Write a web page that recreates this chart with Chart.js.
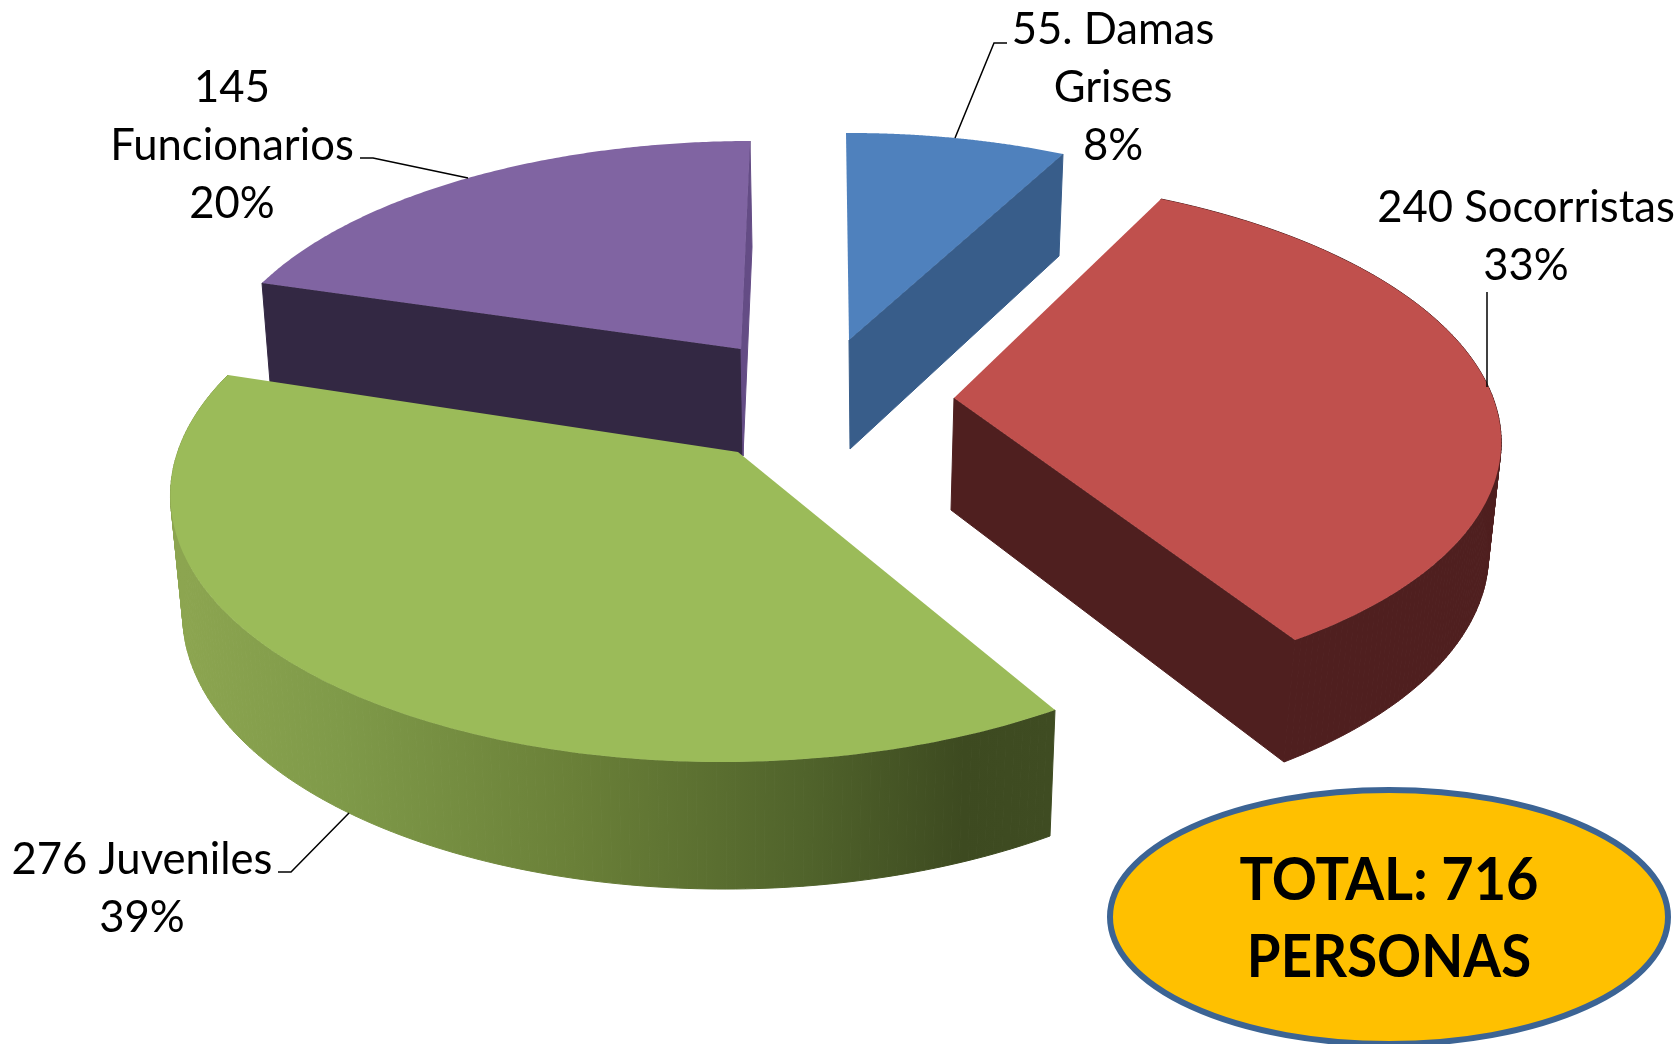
<!DOCTYPE html>
<html>
<head>
<meta charset="utf-8">
<style>html,body{margin:0;padding:0;background:#fff;overflow:hidden}canvas{display:block}</style>
<script src="https://cdn.jsdelivr.net/npm/chart.js@4/dist/chart.umd.js"></script>
</head>
<body>
<canvas id="c" width="1678" height="1044"></canvas>
<script>
const categories = ["Damas Grises", "Socorristas", "Juveniles", "Funcionarios"];
const values = [55, 240, 276, 145];
const percents = ["8%", "33%", "39%", "20%"];
const labelLines = [["55. Damas", "Grises", "8%"], ["240 Socorristas", "33%"], ["276 Juveniles", "39%"], ["145", "Funcionarios", "20%"]];
const totalLines = ["TOTAL: 716", "PERSONAS"];
const topColors = ["#4f81bd", "#c0504d", "#9bbb59", "#8064a2"];

/* perspective fit per slice: where apex, rim start, rim middle, rim end land on the page */
const topFit = [
  [[849,340],[846,133],[955,138],[1063,154]],
  [[954,398],[1161,199],[1489,388],[1295,640]],
  [[738,452],[1055,710],[341,689],[228,375]],
  [[741,349],[262,283],[468,178],[750,141]]
];
const bottomFit = [
  [[850,449],[846,240],[955,240],[1059,256]],
  [[951,510],[1155,310],[1475,495],[1284,762]],
  [[735,570],[1050,836],[349,813],[238,492]],
  [[743,456],[270,382],[475,280],[752,247]]
];
const walls = [
  {startCut:null, rim:null, endCut:"#385d8a"},
  {startCut:null, rim:"#4f1f1f", endCut:"#4f1f1f"},
  {startCut:null, rim:"gradient", endCut:null},
  {startCut:"#332843", rim:null, endCut:"#644c85"}
];
const drawOrder = [3, 0, 1, 2];
const labelPos = [
  {x:1113, y:[44,102,160]},
  {x:1526, y:[222,280]},
  {x:142, y:[874,932]},
  {x:232, y:[102,160,218]}
];
const leaders = [
  [[955,138],[994,43],[1007,43]],
  [[1487,387],[1487,292]],
  [[349,813],[291,872],[278,872]],
  [[468,178],[373,158],[360,158]]
];

function solve(A, b) {
  const n = b.length, M = A.map((r, i) => [...r, b[i]]);
  for (let i = 0; i < n; i++) {
    let p = i;
    for (let k = i + 1; k < n; k++) if (Math.abs(M[k][i]) > Math.abs(M[p][i])) p = k;
    [M[i], M[p]] = [M[p], M[i]];
    for (let k = 0; k < n; k++) {
      if (k === i) continue;
      const f = M[k][i] / M[i][i];
      for (let j = i; j <= n; j++) M[k][j] -= f * M[i][j];
    }
  }
  return M.map((r, i) => r[n] / r[i]);
}
function homography(src, dst) {
  const A = [], b = [];
  for (let i = 0; i < 4; i++) {
    const [x, y] = src[i], [X, Y] = dst[i];
    A.push([x, y, 1, 0, 0, 0, -x * X, -y * X]); b.push(X);
    A.push([0, 0, 0, x, y, 1, -x * Y, -y * Y]); b.push(Y);
  }
  const h = solve(A, b);
  return (x, y) => {
    const w = h[6] * x + h[7] * y + 1;
    return [(h[0] * x + h[1] * y + h[2]) / w, (h[3] * x + h[4] * y + h[5]) / w];
  };
}
function poly(ctx, pts) {
  ctx.beginPath();
  pts.forEach((p, i) => i ? ctx.lineTo(p[0], p[1]) : ctx.moveTo(p[0], p[1]));
  ctx.closePath();
}
function quad(ctx, pts, style) {
  ctx.fillStyle = style; ctx.strokeStyle = style; ctx.lineWidth = 1;
  poly(ctx, pts); ctx.fill(); ctx.stroke();
}

const pie3d = {
  id: "pie3d",
  beforeDatasetsDraw(chart) {
    const ctx = chart.ctx, arcs = chart.getDatasetMeta(0).data;
    for (const i of drawOrder) {
      const el = arcs[i], a0 = el.startAngle, a1 = el.endAngle, am = (a0 + a1) / 2;
      const u = a => [Math.cos(a), Math.sin(a)];
      const src = [[0, 0], u(a0), u(am), u(a1)];
      const T = homography(src, topFit[i]), B = homography(src, bottomFit[i]);
      const N = 160, angles = [];
      for (let k = 0; k <= N; k++) angles.push(a0 + (a1 - a0) * k / N);
      const topRim = angles.map(a => T(...u(a))), botRim = angles.map(a => B(...u(a)));
      const w = walls[i];
      const ta = T(0, 0), ba = B(0, 0);
      if (w.startCut) quad(ctx, [ta, topRim[0], botRim[0], ba], w.startCut);
      if (w.endCut) quad(ctx, [ta, topRim[N], botRim[N], ba], w.endCut);
      if (w.rim) {
        let style = w.rim;
        if (w.rim === "gradient") {
          const g = ctx.createLinearGradient(184, 0, 1050, 0);
          g.addColorStop(0, "#8ca550");
          g.addColorStop(0.18, "#7f9a49");
          g.addColorStop(0.45, "#6a8038");
          g.addColorStop(0.72, "#50632b");
          g.addColorStop(0.9, "#3d4a20");
          g.addColorStop(1, "#3f4c22");
          style = g;
        }
        for (let k = 0; k < N; k++) quad(ctx, [topRim[k], topRim[k + 1], botRim[k + 1], botRim[k]], style);
      }
      ctx.fillStyle = el.options.backgroundColor;
      poly(ctx, [ta].concat(topRim)); ctx.fill();
    }
    return false;
  },
  afterDraw(chart) {
    const ctx = chart.ctx;
    ctx.save();
    ctx.strokeStyle = "#000"; ctx.lineWidth = 1.5;
    for (const l of leaders) {
      ctx.beginPath();
      l.forEach((p, i) => i ? ctx.lineTo(p[0], p[1]) : ctx.moveTo(p[0], p[1]));
      ctx.stroke();
    }
    ctx.fillStyle = "#000"; ctx.textAlign = "center"; ctx.textBaseline = "alphabetic";
    ctx.font = '43.6px Lato';
    labelLines.forEach((lines, i) => lines.forEach((t, j) => ctx.fillText(t, labelPos[i].x, labelPos[i].y[j])));
    ctx.beginPath();
    ctx.ellipse(1389, 917, 279, 127, 0, 0, Math.PI * 2);
    ctx.fillStyle = "#ffc000"; ctx.fill();
    ctx.strokeStyle = "#3c6494"; ctx.lineWidth = 6; ctx.stroke();
    ctx.fillStyle = "#000"; ctx.font = 'bold 60px Lato';
    [[totalLines[0], 900, 0.933], [totalLines[1], 977, 0.91]].forEach(([t, y, sx]) => {
      ctx.save(); ctx.translate(1389, y); ctx.scale(sx, 1); ctx.fillText(t, 0, 0); ctx.restore();
    });
    ctx.restore();
  }
};

new Chart(document.getElementById("c"), {
  type: "pie",
  data: { labels: categories, datasets: [{ data: values, backgroundColor: topColors, borderWidth: 0 }] },
  options: {
    responsive: false, animation: false,
    plugins: { legend: { display: false }, tooltip: { enabled: false } }
  },
  plugins: [pie3d]
});
</script>
</body>
</html>
